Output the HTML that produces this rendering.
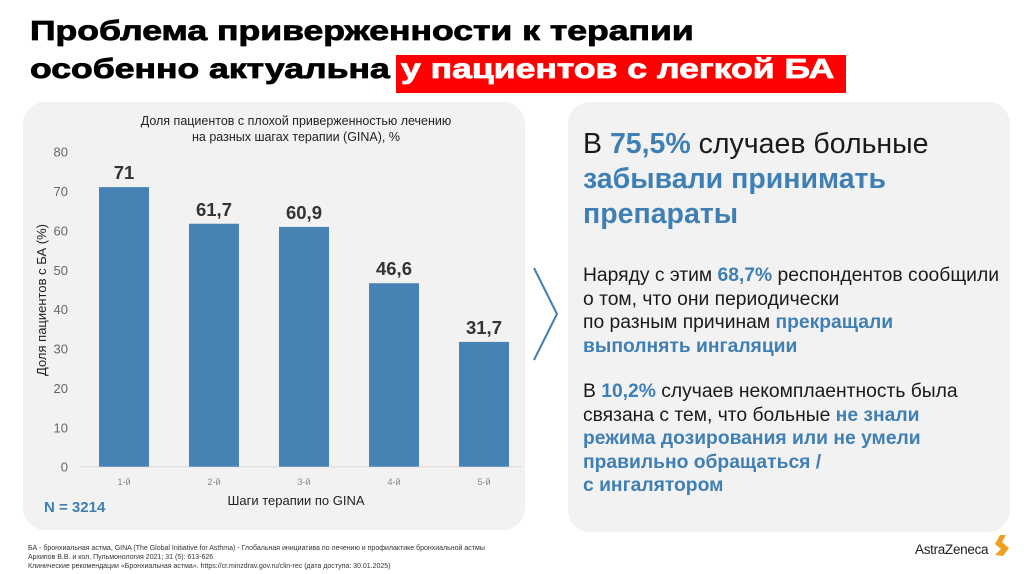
<!DOCTYPE html>
<html><head><meta charset="utf-8"><style>
body{margin:0;width:1024px;height:574px;background:#fff;position:relative;overflow:hidden;font-family:"Liberation Sans",sans-serif}
.t{position:absolute;white-space:nowrap}
.title{font-weight:bold;font-size:28px;line-height:28px;color:#000;transform:scaleX(1.27);transform-origin:0 0;-webkit-text-stroke:0.8px currentColor}
.panel{position:absolute;background:#f2f2f2;border-radius:22px}
.b{color:#3f7fb3;font-weight:900}
.rp{font-size:19.3px;color:#1a1a1a;line-height:23.5px}
</style></head><body>
<div class="t title" style="left:30px;top:17px">Проблема приверженности к терапии</div>
<div style="position:absolute;left:396px;top:55px;width:450px;height:38px;background:#f00"></div>
<div class="t title" style="left:30px;top:55px">особенно актуальна</div>
<div class="t title" style="left:401px;top:55px;color:#fff">у пациентов с легкой БА</div>

<div class="panel" style="left:23px;top:102px;width:502px;height:428px"></div>
<div class="panel" style="left:568px;top:102px;width:442px;height:430px"></div>

<svg id="chart" style="position:absolute;left:0;top:0" width="530" height="530"></svg>

<svg style="position:absolute;left:0;top:0" width="1024" height="574"><polyline points="534,268 557,314 534,360" fill="none" stroke="#3f7fb3" stroke-width="2"/>
<path d="M1000,535 l6,0 l-4,7 l7,6 l-6,8 l-8,-1 l6,-6 l-6,-5z" fill="#f0a020"/></svg>

<div class="t" style="left:44px;top:499px;font-size:15px;font-weight:bold;color:#3f7fb3">N = 3214</div>

<div class="t" style="left:583px;top:127px;font-size:28.5px;line-height:35px;color:#1a1a1a">В <span class="b">75,5%</span> случаев больные<br><span class="b">забывали принимать</span><br><span class="b">препараты</span></div>
<div class="t rp" style="left:583px;top:264px">Наряду с этим <span class="b">68,7%</span> респондентов сообщили<br>о том, что они периодически<br>по разным причинам <span class="b">прекращали</span><br><span class="b">выполнять ингаляции</span></div>
<div class="t rp" style="left:583px;top:380px">В <span class="b">10,2%</span> случаев некомплаентность была<br>связана с тем, что больные <span class="b">не знали</span><br><span class="b">режима дозирования или не умели</span><br><span class="b">правильно обращаться /</span><br><span class="b">с ингалятором</span></div>

<div class="t" style="left:28px;top:544px;font-size:7px;line-height:9px;color:#333">БА - бронхиальная астма, GINA (The Global Initiative for Asthma) - Глобальная инициатива по лечению и профилактике бронхиальной астмы<br>Архипов В.В. и кол. Пульмонология 2021; 31 (5): 613-626<br>Клинические рекомендации «Бронхиальная астма». https://cr.minzdrav.gov.ru/clin-rec (дата доступа: 30.01.2025)</div>
<div class="t" style="left:915px;top:542px;font-size:13.5px;color:#222;letter-spacing:-0.3px">AstraZeneca</div>

<script>
const categories=["1-й","2-й","3-й","4-й","5-й"];
const values=[71,61.7,60.9,46.6,31.7];
const valueLabels=["71","61,7","60,9","46,6","31,7"];
const yTicks=[0,10,20,30,40,50,60,70,80];
const svg=document.getElementById('chart');
const NS="http://www.w3.org/2000/svg";
const y0=466.7,y80=151.7;
const y=v=>y0-(y0-y80)*v/80;
const x=i=>124+90*i;
function el(t,a,txt){const e=document.createElementNS(NS,t);for(const k in a)e.setAttribute(k,a[k]);if(txt!==undefined)e.textContent=txt;svg.appendChild(e);return e;}
const ax=el('line',{x1:80,x2:522,y1:y0,y2:y0,stroke:'#d9d9d9','stroke-width':1});


yTicks.forEach(v=>{
 const t=el('text',{x:68,y:y(v)+5,'text-anchor':'end','font-size':13,fill:'#666','font-family':'Liberation Sans'},String(v));
 
 
});
values.forEach((v,i)=>{
 const r=el('rect',{x:x(i)-25,y:y(v),width:50,height:y0-y(v),fill:'#4682b4'});
 
 
 const l=el('text',{x:x(i),y:y(v)-8,'text-anchor':'middle','font-size':18.5,'font-weight':'bold',fill:'#333','font-family':'Liberation Sans'},valueLabels[i]);
 
 
 const c=el('text',{x:x(i),y:485,'text-anchor':'middle','font-size':9,fill:'#888','font-family':'Liberation Sans'},categories[i]);
 
 
});
const t1=el('text',{x:296,y:125,'text-anchor':'middle','font-size':12.5,fill:'#222','font-family':'Liberation Sans'},'Доля пациентов с плохой приверженностью лечению');


const t2=el('text',{x:296,y:141,'text-anchor':'middle','font-size':12.5,fill:'#222','font-family':'Liberation Sans'},'на разных шагах терапии (GINA), %');


const xt=el('text',{x:296,y:505,'text-anchor':'middle','font-size':13,fill:'#222','font-family':'Liberation Sans'},'Шаги терапии по GINA');


const yt=el('text',{x:0,y:0,'text-anchor':'middle','font-size':13,fill:'#222','font-family':'Liberation Sans',transform:'translate(46,300) rotate(-90)'},'Доля пациентов с БА (%)');


</script>
</body></html>
